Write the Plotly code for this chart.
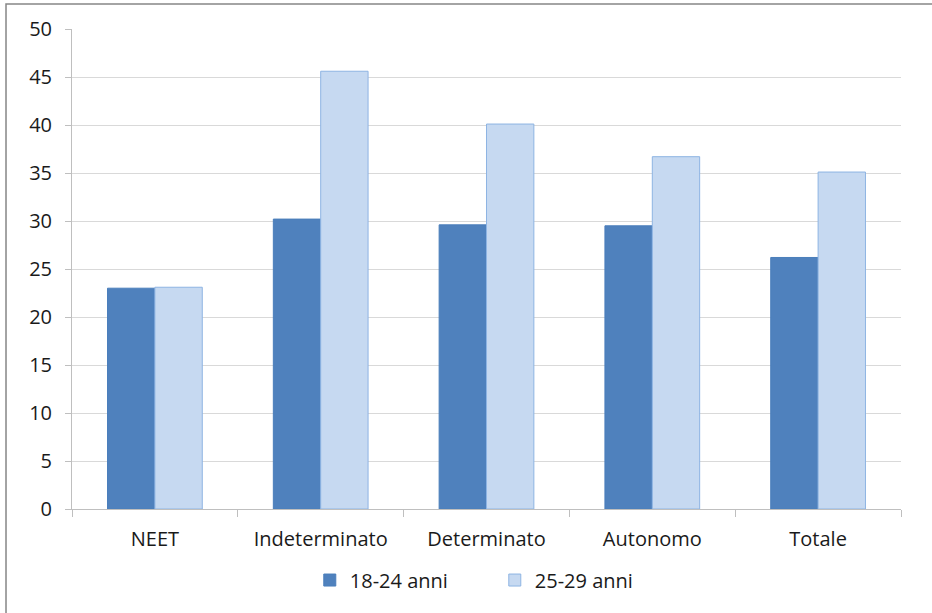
import plotly.graph_objects as go

categories = ["NEET", "Indeterminato", "Determinato", "Autonomo", "Totale"]
series_names = ["18-24 anni", "25-29 anni"]
values_18_24 = [23.0, 30.2, 29.6, 29.5, 26.2]
values_25_29 = [23.1, 45.6, 40.1, 36.7, 35.1]
y_ticks = [0, 5, 10, 15, 20, 25, 30, 35, 40, 45, 50]

fig = go.Figure()
fig.add_trace(go.Bar(
    x=categories, y=values_18_24, name=series_names[0],
    marker=dict(color="#4F81BD", line=dict(color="#4A7EBB", width=1)),
))
fig.add_trace(go.Bar(
    x=categories, y=values_25_29, name=series_names[1],
    marker=dict(color="#C6D9F1", line=dict(color="#8EB4E3", width=1)),
))

font = dict(family="'Open Sans', sans-serif", size=20, color="#1a1a1a")

fig.update_layout(
    width=932, height=613,
    margin=dict(l=72, r=31, t=29, b=104),
    paper_bgcolor="white", plot_bgcolor="white",
    barmode="group", bargap=0.4286, bargroupgap=0,
    font=font,
    showlegend=True,
    legend=dict(orientation="h", x=0.51, xanchor="center", y=-0.148, yanchor="middle",
                font=font, entrywidth=140, traceorder="normal"),
    xaxis=dict(
        type="category", tickson="boundaries", ticks="outside", ticklen=7,
        tickcolor="#BFBFBF", showline=True, linecolor="#BFBFBF", linewidth=1,
        showgrid=False, tickfont=font, ticklabelstandoff=12,
    ),
    yaxis=dict(
        range=[0, 50], tickvals=y_ticks, ticks="outside", ticklen=6,
        tickcolor="#BFBFBF", showline=True, linecolor="#BFBFBF", linewidth=1,
        showgrid=True, gridcolor="#D9D9D9", gridwidth=1, zeroline=False,
        tickfont=font, ticklabelstandoff=9,
    ),
    shapes=[dict(
        type="rect", xref="paper", yref="paper",
        x0=-0.0796, x1=1.2, y0=-0.4, y1=1.052,
        line=dict(color="#868686", width=1.5), fillcolor="rgba(0,0,0,0)", layer="below",
    )],
)

fig.write_html("out.html", config={"displayModeBar": False},
               post_script="document.body.style.margin='0';")
